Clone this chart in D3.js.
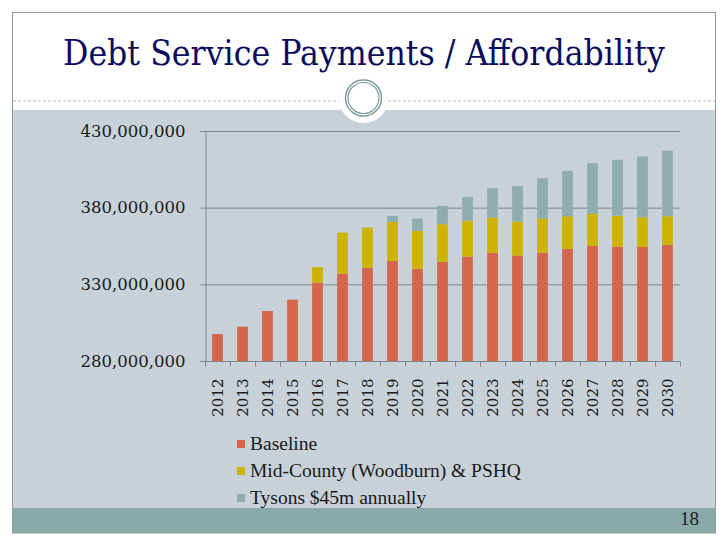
<!DOCTYPE html>
<html>
<head>
<meta charset="utf-8">
<script src="https://cdn.jsdelivr.net/npm/d3@7"></script>
<style>
  html, body { margin: 0; padding: 0; background: #ffffff; }
  svg { display: block; }
</style>
</head>
<body>
<div id="chart"></div>
<script>
// data, in millions of dollars
var years = ["2012","2013","2014","2015","2016","2017","2018","2019","2020","2021",
             "2022","2023","2024","2025","2026","2027","2028","2029","2030"];
var baseline = [297.6, 302.4, 312.6, 320.0, 331.1, 337.0, 340.9, 345.3, 340.2, 344.8,
                348.1, 350.5, 348.7, 350.7, 353.1, 355.1, 354.6, 354.4, 355.7];
var midCounty = [0, 0, 0, 0, 10.1, 26.7, 26.1, 25.4, 24.7, 24.4,
                 23.5, 23.0, 22.2, 22.2, 21.3, 20.9, 20.2, 19.3, 18.7];
var tysons = [0, 0, 0, 0, 0, 0, 0, 3.9, 8.0, 12.0,
              15.4, 19.2, 23.1, 26.3, 29.6, 33.0, 36.4, 39.7, 42.7];
var yTicks = [280000000, 330000000, 380000000, 430000000];
var seriesNames = ["Baseline", "Mid-County (Woodburn) & PSHQ", "Tysons $45m annually"];
var keys = ["baseline", "midCounty", "tysons"];
var colors = ["#d4664b", "#cdb300", "#8fadaf"];

var W = 728, H = 546;

var svg = d3.select("#chart")
    .append("svg")
    .attr("width", W)
    .attr("height", H);

// slide frame
svg.append("rect")
    .attr("x", 12.5).attr("y", 12.5)
    .attr("width", 703).attr("height", 520.5)
    .attr("fill", "#ffffff")
    .attr("stroke", "#8e9c9c");

// content area
svg.append("rect")
    .attr("x", 13).attr("y", 110)
    .attr("width", 702).attr("height", 399)
    .attr("fill", "#c7d1d7");

// bottom band
svg.append("rect")
    .attr("x", 13).attr("y", 508)
    .attr("width", 702).attr("height", 25)
    .attr("fill", "#8aaaa9");

svg.append("text")
    .attr("x", 699).attr("y", 525)
    .attr("text-anchor", "end")
    .attr("font-family", "Liberation Serif")
    .attr("font-size", 19)
    .attr("fill", "#1a1a1a")
    .text("18");

// title, sized to span the same width as the slide title
var title = svg.append("text")
    .attr("x", 63).attr("y", 65)
    .attr("font-family", "'DejaVu Serif Condensed', 'DejaVu Serif'")
    .attr("font-size", 32)
    .attr("fill", "#0c0c5c")
    .text("Debt Service Payments / Affordability");
var tw = title.node().getComputedTextLength();
title.attr("font-size", 32 * 602 / tw);

// dashed divider with the ring ornament
svg.append("line")
    .attr("x1", 13).attr("x2", 715)
    .attr("y1", 101).attr("y2", 101)
    .attr("stroke", "#9aa6a6")
    .attr("stroke-width", 0.8)
    .attr("stroke-dasharray", "3,2");

svg.append("circle")
    .attr("cx", 363.5).attr("cy", 98).attr("r", 25)
    .attr("fill", "#ffffff");
svg.append("circle")
    .attr("cx", 363.5).attr("cy", 98).attr("r", 18)
    .attr("fill", "#ffffff")
    .attr("stroke", "#7f9c9c").attr("stroke-width", 1.5);
svg.append("circle")
    .attr("cx", 363.5).attr("cy", 98).attr("r", 15.5)
    .attr("fill", "none")
    .attr("stroke", "#7f9c9c").attr("stroke-width", 1.2);

// chart
var margin = {left: 205, top: 131, right: 48},
    width = 680 - margin.left,
    height = 361 - margin.top;

var g = svg.append("g")
    .attr("transform", "translate(" + margin.left + "," + margin.top + ")");

var x = d3.scaleBand()
    .domain(years)
    .range([0, width])
    .paddingInner(0.57)
    .paddingOuter(0.285);

var y = d3.scaleLinear()
    .domain([280000000, 430000000])
    .range([height, 0]);

var rows = years.map(function (yr, i) {
    return {year: yr, baseline: baseline[i] * 1e6, midCounty: midCounty[i] * 1e6, tysons: tysons[i] * 1e6};
});

// gridlines
g.append("g")
    .selectAll("line")
    .data(yTicks.slice(1))
    .enter()
    .append("line")
    .attr("x1", 0).attr("x2", width)
    .attr("y1", function (d) { return y(d) + 0.5; })
    .attr("y2", function (d) { return y(d) + 0.5; })
    .attr("stroke", "#7d868c");

// stacked bars, baseline starts at the bottom of the axis
var stack = d3.stack().keys(keys);
var layers = stack(rows);

g.append("g")
    .selectAll("g")
    .data(layers)
    .enter()
    .append("g")
    .attr("fill", function (d, i) { return colors[i]; })
    .selectAll("rect")
    .data(function (d) { return d; })
    .enter()
    .append("rect")
    .filter(function (d) { return d[1] - d[0] > 0; })
    .attr("x", function (d) { return x(d.data.year); })
    .attr("width", x.bandwidth())
    .attr("y", function (d) { return y(d[1]); })
    .attr("height", function (d) { return y(Math.max(d[0], 280000000)) - y(d[1]); });

// y axis
var yAxis = g.append("g")
    .attr("transform", "translate(0.5,0)")
    .call(d3.axisLeft(y).tickValues(yTicks).tickFormat(d3.format(",")).tickSize(5).tickPadding(15));
yAxis.select(".domain").attr("stroke", "#7d868c");
yAxis.selectAll(".tick line").attr("stroke", "#7d868c");
yAxis.selectAll("text")
    .attr("font-family", "DejaVu Serif")
    .attr("font-size", 16.5)
    .attr("fill", "#1a1a1a");

// x axis, ticks at band edges
var xAxis = g.append("g")
    .attr("transform", "translate(0," + (height + 0.5) + ")");
xAxis.append("line")
    .attr("x1", 0).attr("x2", width)
    .attr("stroke", "#7d868c");
xAxis.selectAll("line.tk")
    .data(years.concat(["end"]))
    .enter()
    .append("line")
    .attr("class", "tk")
    .attr("x1", function (d, i) { return 0.5 + i * x.step(); })
    .attr("x2", function (d, i) { return 0.5 + i * x.step(); })
    .attr("y1", 0).attr("y2", 5)
    .attr("stroke", "#7d868c");
xAxis.selectAll("text")
    .data(years)
    .enter()
    .append("text")
    .attr("transform", function (d) {
        return "translate(" + (x(d) + x.bandwidth() / 2 + 5) + ",17) rotate(-90)";
    })
    .attr("text-anchor", "end")
    .attr("font-family", "DejaVu Serif")
    .attr("font-size", 15)
    .attr("fill", "#1a1a1a")
    .text(function (d) { return d; });

// legend
var legend = svg.append("g")
    .attr("transform", "translate(237,443)");
var item = legend.selectAll("g")
    .data(seriesNames)
    .enter()
    .append("g")
    .attr("transform", function (d, i) { return "translate(0," + i * 27 + ")"; });
item.append("rect")
    .attr("x", 0).attr("y", -3)
    .attr("width", 8).attr("height", 8)
    .attr("fill", function (d, i) { return colors[i]; });
item.append("text")
    .attr("x", 13).attr("y", 7)
    .attr("font-family", "Liberation Serif")
    .attr("font-size", 19.5)
    .attr("fill", "#1a1a1a")
    .text(function (d) { return d; });
</script>
</body>
</html>
